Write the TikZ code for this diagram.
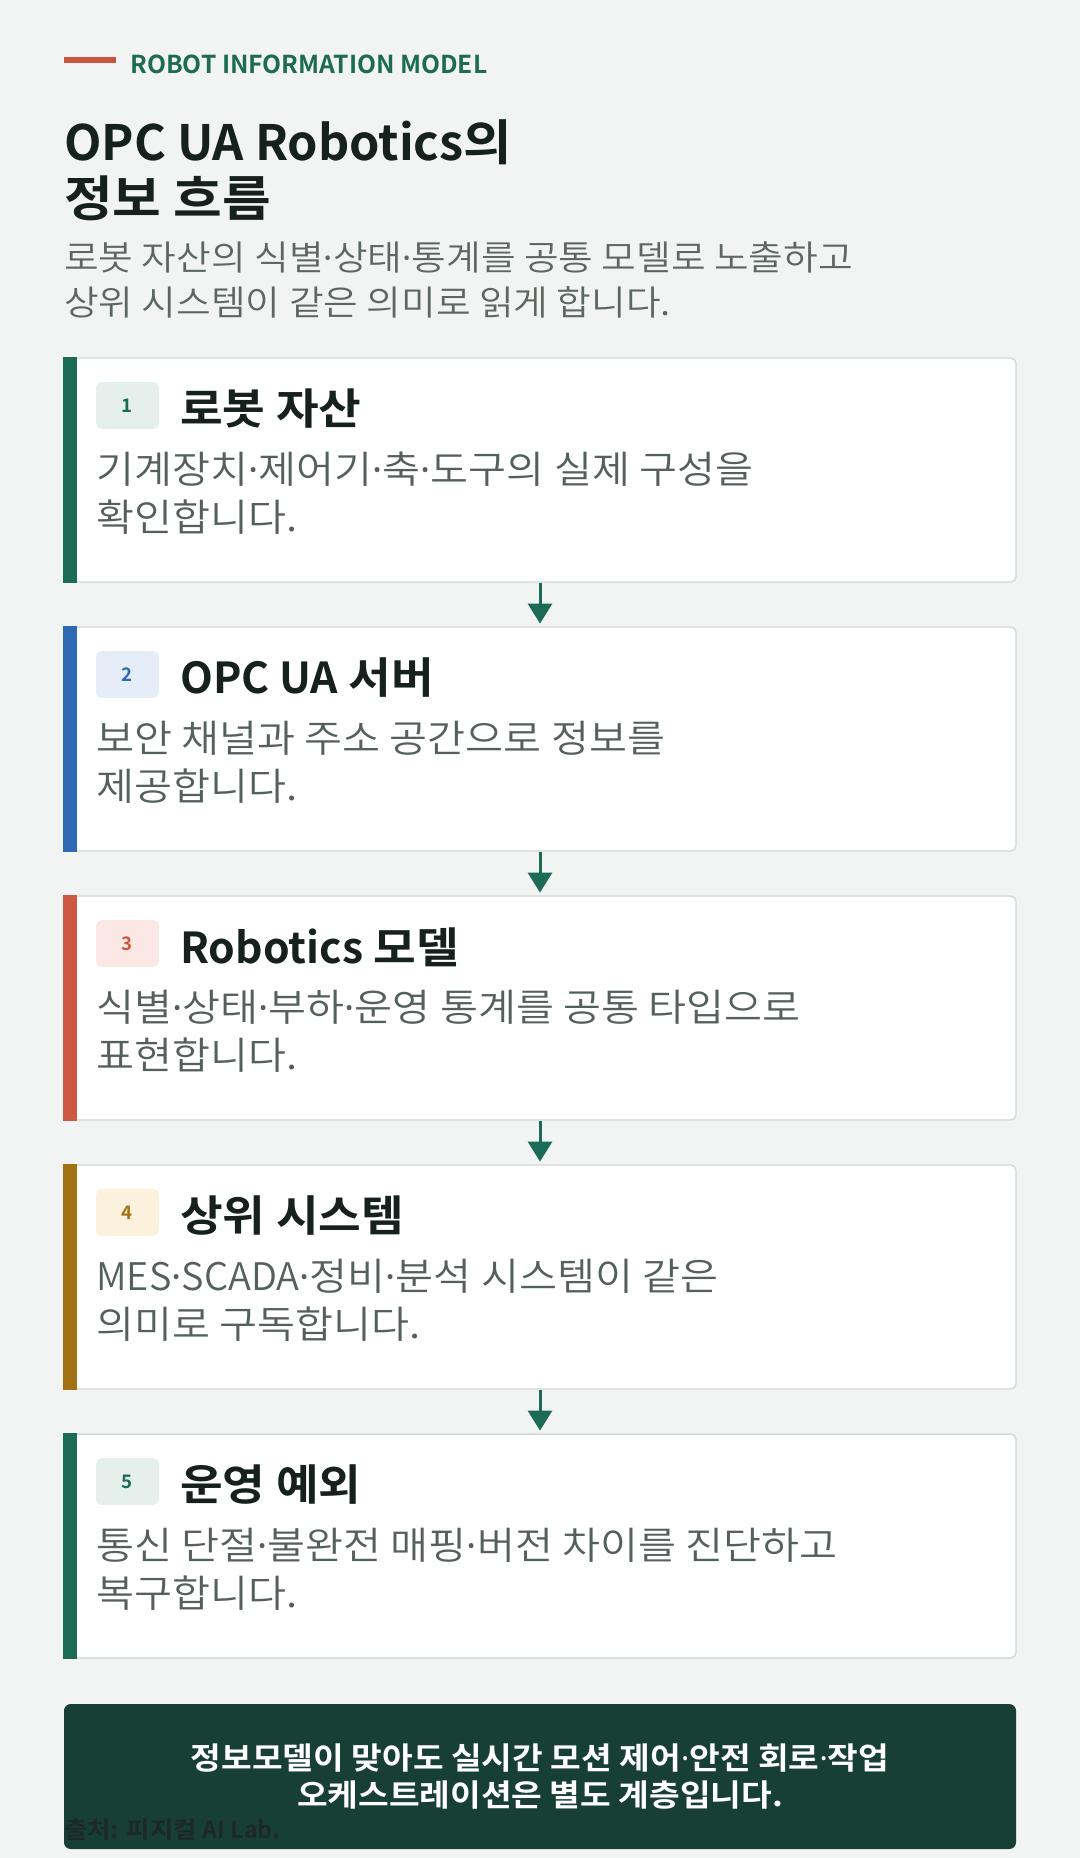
\documentclass[tikz,border=0pt]{standalone}
\usepackage{fontspec}
\setmainfont{Noto Sans CJK KR}[FakeStretch=1.087, BoldFont={Noto Sans CJK KR Bold}]
\newfontfamily\latinfont{Noto Sans CJK KR}[BoldFont={Noto Sans CJK KR Bold}]
\newfontfamily\lightfont{Noto Sans CJK KR DemiLight}[FakeStretch=1.087]
\newfontfamily\lightlatin{Noto Sans CJK KR DemiLight}
\newfontfamily\dotfont{Noto Sans}
\newcommand\mdot{{\dotfont ·}}
\usepackage{tikz}
\usetikzlibrary{arrows.meta}

\definecolor{pagebg}{HTML}{F2F4F3}
\definecolor{ink}{HTML}{16201C}
\definecolor{subgray}{HTML}{5C6762}
\definecolor{bodygray}{HTML}{56605B}
\definecolor{cardline}{HTML}{D2D9D6}
\definecolor{kicker}{HTML}{1E6B54}
\definecolor{kickbar}{HTML}{C9553F}
\definecolor{accgreen}{HTML}{1B6B56}
\definecolor{accblue}{HTML}{2E6AB4}
\definecolor{accred}{HTML}{CC5944}
\definecolor{accgold}{HTML}{A17112}
\definecolor{bggreen}{HTML}{E5EFEB}
\definecolor{bgblue}{HTML}{E5EDF8}
\definecolor{bgred}{HTML}{FBE8E4}
\definecolor{bggold}{HTML}{FBF1DC}
\definecolor{notegreen}{HTML}{173F35}
\definecolor{srcink}{HTML}{1C2924}

\begin{document}
\begin{tikzpicture}[x=0.75pt,y=-0.75pt,
  card/.style={draw=cardline, line width=1.1pt, fill=white, rounded corners=4pt,
    minimum width=714pt, minimum height=168pt, inner sep=0pt},
  badge/.style={rounded corners=4pt, minimum width=47pt, minimum height=35pt,
    inner sep=0pt, font=\latinfont\bfseries\fontsize{14}{16}\selectfont},
  cardtitle/.style={anchor=west, inner sep=0pt, text=ink,
    font=\bfseries\fontsize{32}{38}\selectfont},
  body/.style={anchor=west, inner sep=0pt, align=left, text=bodygray,
    font=\lightfont\fontsize{28.5}{36}\selectfont},
  flow/.style={draw=accgreen, line width=2.25pt, shorten >=2pt,
    -{Triangle[width=18pt,length=15pt]}}]

\fill[pagebg] (0,0) rectangle (1080,1858);

% header
\fill[kickbar] (64,57) rectangle (116,63);
\node[anchor=west, inner sep=0pt, text=kicker, font=\latinfont\bfseries\fontsize{18.5}{22}\selectfont] (kick) at (130,64) {ROBOT INFORMATION MODEL};
\node[anchor=west, inner sep=0pt, align=left, text=ink, font=\bfseries\fontsize{36.5}{42}\selectfont] (title) at (64,170) {{\latinfont OPC UA Robotics}의\\정보 흐름};
\node[anchor=west, inner sep=0pt, align=left, text=subgray, font=\lightfont\fontsize{26}{33.75}\selectfont] (sub) at (64,279.5) {로봇 자산의 식별\mdot 상태\mdot 통계를 공통 모델로 노출하고\\상위 시스템이 같은 의미로 읽게 합니다.};

% step 1
\node[card] (asset) at (540,470) {};
\fill[accgreen] (asset.north west) rectangle ([xshift=10.5pt]asset.south west);
\node[badge, fill=bggreen, text=accgreen] (n1) at (127.5,405.5) {1};
\node[cardtitle] (t1) at (180,409) {로봇 자산};
\node[body] (b1) at (96,493) {기계장치\mdot 제어기\mdot 축\mdot 도구의 실제 구성을\\확인합니다.};

% step 2
\node[card] (server) at (540,739) {};
\fill[accblue] (server.north west) rectangle ([xshift=10.5pt]server.south west);
\node[badge, fill=bgblue, text=accblue] (n2) at (127.5,674.5) {2};
\node[cardtitle] (t2) at (180,678) {{\latinfont OPC UA} 서버};
\node[body] (b2) at (96,762) {보안 채널과 주소 공간으로 정보를\\제공합니다.};

% step 3
\node[card] (model) at (540,1008) {};
\fill[accred] (model.north west) rectangle ([xshift=10.5pt]model.south west);
\node[badge, fill=bgred, text=accred] (n3) at (127.5,943.5) {3};
\node[cardtitle] (t3) at (180,947) {{\latinfont Robotics} 모델};
\node[body] (b3) at (96,1031) {식별\mdot 상태\mdot 부하\mdot 운영 통계를 공통 타입으로\\표현합니다.};

% step 4
\node[card] (upper) at (540,1277) {};
\fill[accgold] (upper.north west) rectangle ([xshift=10.5pt]upper.south west);
\node[badge, fill=bggold, text=accgold] (n4) at (127.5,1212.5) {4};
\node[cardtitle] (t4) at (180,1216) {상위 시스템};
\node[body] (b4) at (96,1300) {{\lightlatin MES}\mdot{\lightlatin SCADA}\mdot 정비\mdot 분석 시스템이 같은\\의미로 구독합니다.};

% step 5
\node[card] (except) at (540,1546) {};
\fill[accgreen] (except.north west) rectangle ([xshift=10.5pt]except.south west);
\node[badge, fill=bggreen, text=accgreen] (n5) at (127.5,1481.5) {5};
\node[cardtitle] (t5) at (180,1485) {운영 예외};
\node[body] (b5) at (96,1569) {통신 단절\mdot 불완전 매핑\mdot 버전 차이를 진단하고\\복구합니다.};

% arrows
\draw[flow] (asset.south) -- (server.north);
\draw[flow] (server.south) -- (model.north);
\draw[flow] (model.south) -- (upper.north);
\draw[flow] (upper.south) -- (except.north);

% note
\node[fill=notegreen, rounded corners=5pt, minimum width=714pt, minimum height=108.75pt, inner sep=0pt, align=center, text=white, font=\bfseries\fontsize{23}{27.75}\selectfont] (note) at (540,1776.5) {정보모델이 맞아도 실시간 모션 제어\mdot 안전 회로\mdot 작업\\오케스트레이션은 별도 계층입니다.};
\node[anchor=west, inner sep=0pt, text=srcink, font=\bfseries\fontsize{17.5}{20}\selectfont] (src) at (64,1830) {출처: 피지컬 {\latinfont AI Lab.}};
\end{tikzpicture}
\end{document}
